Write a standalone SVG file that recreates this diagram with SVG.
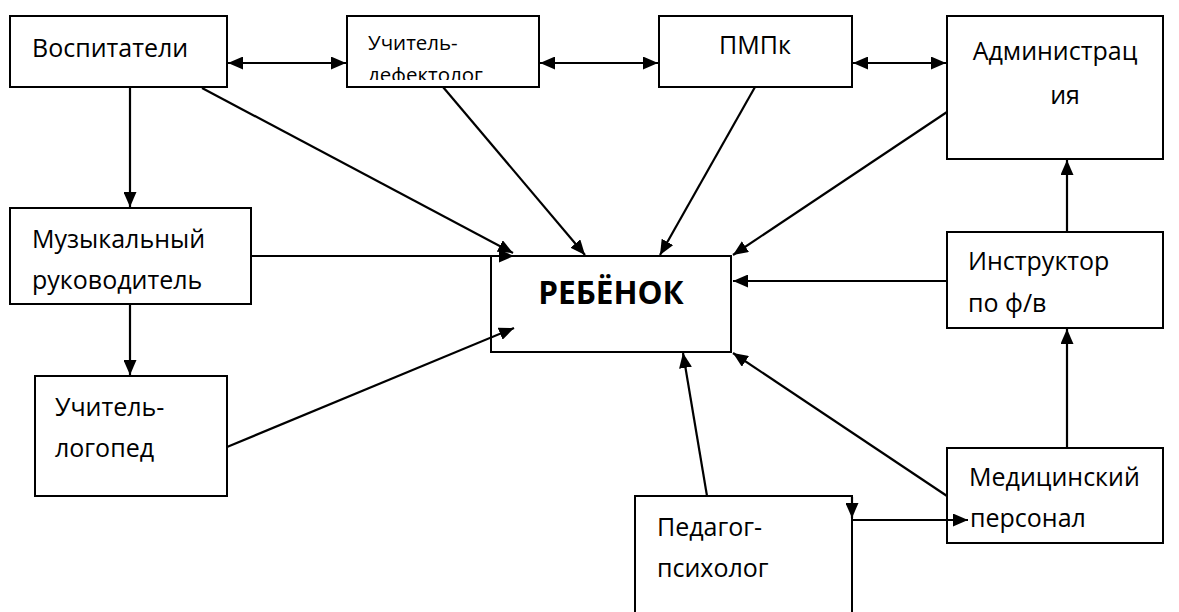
<svg xmlns="http://www.w3.org/2000/svg" width="1179" height="612" viewBox="0 0 1179 612">
<style>
.box{fill:#fff;stroke:#000;stroke-width:2}
.t{font-family:"Open Sans","Noto Sans","DejaVu Sans",sans-serif;font-size:25px;fill:#000}
.s{font-size:20.5px}
.b{font-weight:bold;font-size:31.5px}
.c{stroke:#000;stroke-width:2.2;fill:none}
</style>
<defs>
<marker id="ah" markerUnits="userSpaceOnUse" markerWidth="15" markerHeight="13" viewBox="0 0 15 13" refX="15" refY="6.5" orient="auto-start-reverse">
<path d="M0,0 L15,6.5 L0,13 z" fill="#000"/>
</marker>
<clipPath id="clipUD"><rect x="347" y="16" width="192" height="64"/></clipPath>
</defs>
<rect width="1179" height="612" fill="#fff"/>
<g id="nodes">
<g id="vospitateli"><rect class="box" x="10" y="16" width="217" height="71"/><text class="t" x="32" y="57">Воспитатели</text></g>
<g id="defektolog"><rect class="box" x="347" y="16" width="192" height="71"/><g clip-path="url(#clipUD)"><text class="t s" x="368" y="50">Учитель-</text><text class="t s" x="368" y="82">дефектолог</text></g></g>
<g id="pmpk"><rect class="box" x="659" y="16" width="193" height="71"/><text class="t" x="755" y="54" text-anchor="middle">ПМПк</text></g>
<g id="admin"><rect class="box" x="947" y="16" width="216" height="143"/><text class="t" x="1055" y="60" text-anchor="middle">Администрац</text><text class="t" x="1065" y="104" text-anchor="middle">ия</text></g>
<g id="muz"><rect class="box" x="10" y="208" width="241" height="96"/><text class="t" x="32" y="248">Музыкальный</text><text class="t" x="32" y="289">руководитель</text></g>
<g id="logoped"><rect class="box" x="35" y="376" width="192" height="120"/><text class="t" x="55" y="416">Учитель-</text><text class="t" x="55" y="457">логопед</text></g>
<g id="rebenok"><rect class="box" x="491" y="256" width="240" height="96"/><text class="t b" x="611" y="304" text-anchor="middle">РЕБЁНОК</text></g>
<g id="instruktor"><rect class="box" x="947" y="232" width="216" height="96"/><text class="t" x="968" y="270">Инструктор</text><text class="t" x="968" y="312">по ф/в</text></g>
<g id="med"><rect class="box" x="947" y="448" width="216" height="95"/><text class="t" x="969" y="486">Медицинский</text><text class="t" x="970" y="527">персонал</text></g>
<g id="psiholog"><rect class="box" x="635" y="496" width="217" height="140"/><text class="t" x="657" y="536">Педагог-</text><text class="t" x="657" y="577">психолог</text></g>
</g>
<g id="connectors">
<line class="c" x1="228" y1="63" x2="346" y2="63" marker-start="url(#ah)" marker-end="url(#ah)"/>
<line class="c" x1="540" y1="63" x2="658" y2="63" marker-start="url(#ah)" marker-end="url(#ah)"/>
<line class="c" x1="853" y1="63" x2="946" y2="63" marker-start="url(#ah)" marker-end="url(#ah)"/>
<line class="c" x1="130" y1="87" x2="130" y2="207" marker-end="url(#ah)"/>
<line class="c" x1="130" y1="304" x2="130" y2="375" marker-end="url(#ah)"/>
<line class="c" x1="202" y1="88" x2="513" y2="253" marker-end="url(#ah)"/>
<line class="c" x1="251" y1="256" x2="514" y2="256" marker-end="url(#ah)"/>
<line class="c" x1="227" y1="447" x2="514" y2="328" marker-end="url(#ah)"/>
<line class="c" x1="443" y1="87" x2="585" y2="255" marker-end="url(#ah)"/>
<line class="c" x1="755" y1="87" x2="660" y2="255" marker-end="url(#ah)"/>
<line class="c" x1="947" y1="112" x2="733" y2="255" marker-end="url(#ah)"/>
<line class="c" x1="947" y1="281" x2="733" y2="281" marker-end="url(#ah)"/>
<line class="c" x1="1067" y1="232" x2="1067" y2="160" marker-end="url(#ah)"/>
<line class="c" x1="1067" y1="448" x2="1067" y2="329" marker-end="url(#ah)"/>
<line class="c" x1="707" y1="496" x2="683" y2="353" marker-end="url(#ah)"/>
<line class="c" x1="947" y1="496" x2="733" y2="353" marker-end="url(#ah)"/>
<line class="c" x1="852" y1="520" x2="968" y2="520" marker-end="url(#ah)"/>
<line class="c" x1="852" y1="497" x2="852" y2="518" marker-end="url(#ah)"/>
</g>
</svg>
